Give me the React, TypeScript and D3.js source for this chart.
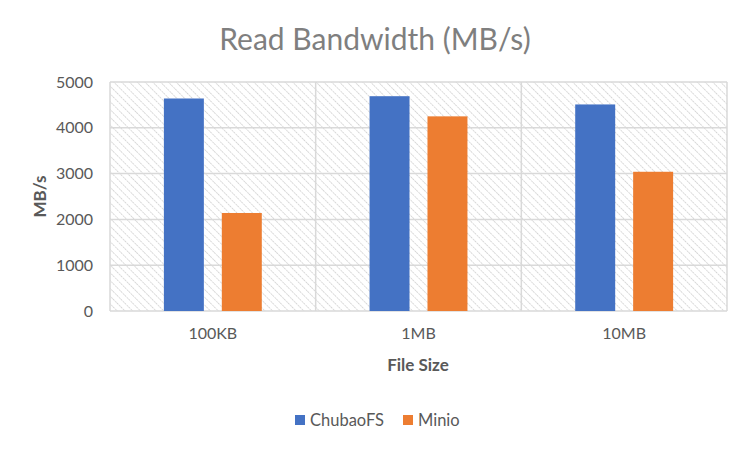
import React from 'react'
import * as d3 from 'd3'

const categories = ['100KB', '1MB', '10MB']
const seriesNames = ['ChubaoFS', 'Minio']
const chubaoValues = [4640, 4690, 4510]
const minioValues = [2140, 4250, 3040]
const yTicks = [0, 1000, 2000, 3000, 4000, 5000]
const colors = ['#4472c4', '#ed7d31']

const font = 'Lato, "Open Sans", sans-serif'

export default function App() {
  const width = 750
  const height = 449
  const left = 110
  const right = 727
  const top = 82
  const bottom = 311

  const x = d3.scaleBand().domain(categories).range([left, right])
  const y = d3.scaleLinear().domain([0, 5000]).range([bottom, top])
  const inner = d3.scaleBand().domain(seriesNames).range([0, x.bandwidth()]).paddingInner(0.31).paddingOuter(0.93)
  const series = [chubaoValues, minioValues]

  return (
    <svg width={width} height={height} style={{ position: 'absolute', left: 0, top: 0, background: '#fff' }}>
      <defs>
        <pattern id="hatch" width="5.5" height="5.5" patternUnits="userSpaceOnUse" patternTransform="rotate(-45)">
          <line x1="0" y1="0" x2="0" y2="5.5" stroke="#d0d0d0" strokeWidth="1.6" strokeDasharray="2 1" />
        </pattern>
      </defs>
      <text x={375} y={50} textAnchor="middle" fontFamily={font} fontSize={30} fill="#7f7f7f">
        Read Bandwidth (MB/s)
      </text>
      <rect x={left} y={top} width={right - left} height={bottom - top} fill="url(#hatch)" />
      {yTicks.map((t) => (
        <g key={t}>
          <line x1={left} x2={right} y1={y(t)} y2={y(t)} stroke="#d9d9d9" strokeWidth={1.5} />
          <text x={93} y={y(t)} dy="0.35em" textAnchor="end" fontFamily={font} fontSize={16} fill="#595959">
            {t}
          </text>
        </g>
      ))}
      {[...categories.map((c) => x(c) as number), right].map((v, i) => (
        <line key={i} x1={v} x2={v} y1={top} y2={bottom} stroke="#d9d9d9" strokeWidth={1.5} />
      ))}
      {categories.map((c, ci) => (
        <g key={c}>
          {series.map((vals, si) => (
            <rect
              key={si}
              x={(x(c) as number) + (inner(seriesNames[si]) as number)}
              y={y(vals[ci])}
              width={inner.bandwidth()}
              height={bottom - y(vals[ci])}
              fill={colors[si]}
            />
          ))}
          <text
            x={(x(c) as number) + x.bandwidth() / 2}
            y={339}
            textAnchor="middle"
            fontFamily={font}
            fontSize={16}
            fill="#595959"
          >
            {c}
          </text>
        </g>
      ))}
      <text x={418} y={371} textAnchor="middle" fontFamily={font} fontSize={17} fontWeight="bold" fill="#595959">
        File Size
      </text>
      <text
        transform={`translate(46, ${(top + bottom) / 2}) rotate(-90)`}
        textAnchor="middle"
        fontFamily={font}
        fontSize={17}
        fontWeight="bold"
        fill="#595959"
      >
        MB/s
      </text>
      {seriesNames.map((s, i) => {
        const lx = i === 0 ? 295 : 403
        return (
          <g key={s}>
            <rect x={lx} y={415} width={10} height={10} fill={colors[i]} />
            <text x={lx + 15} y={426} fontFamily={font} fontSize={16.5} fill="#595959">
              {s}
            </text>
          </g>
        )
      })}
    </svg>
  )
}
